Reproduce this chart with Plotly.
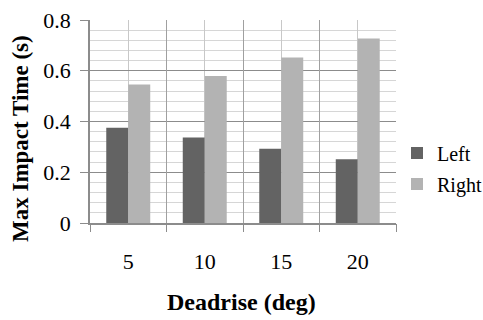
import plotly.graph_objects as go

categories = ["5", "10", "15", "20"]
left_values = [0.375, 0.337, 0.293, 0.251]
right_values = [0.546, 0.579, 0.652, 0.727]
y_ticks = [0, 0.2, 0.4, 0.6, 0.8]
y_tick_labels = ["0", "0.2", "0.4", "0.6", "0.8"]

FONT = "Liberation Serif"
W, H = 483, 320
# plot area in pixels: x 90..396, y 19.5..223.3
L, T = 90, 19.5
R = W - 396
B = H - 223.3
pw = W - L - R
ph = H - T - B


def px_x(x):
    return (x - L) / pw


def px_y(y):
    return (H - B - y) / ph


fig = go.Figure()
fig.add_trace(go.Bar(name="Left", x=categories, y=left_values,
                     marker=dict(color="#636363", line=dict(width=0)),
                     legendgroup="a"))
fig.add_trace(go.Bar(name="Right", x=categories, y=right_values,
                     marker=dict(color="#b3b3b3", line=dict(width=0)),
                     legendgroup="b"))
# helper trace to drive the boundary ticks / grid axis
fig.add_trace(go.Scatter(x=categories, y=[None] * len(categories), xaxis="x2",
                         showlegend=False, hoverinfo="skip", mode="markers"))

fig.update_layout(
    width=W, height=H,
    margin=dict(l=L, r=R, t=T, b=B, pad=0, autoexpand=False),
    paper_bgcolor="white", plot_bgcolor="white",
    barmode="group", bargap=0.425, bargroupgap=0,
    font=dict(family=FONT, color="black"),
    xaxis=dict(type="category", range=[-0.5, 3.5], showgrid=True,
               gridcolor="#c8c8c8", gridwidth=1, ticks="",
               showline=True, linecolor="#8c8c8c", linewidth=1.5,
               tickfont=dict(size=22, family=FONT, color="black"),
               ticklabelstandoff=18, ticklabeloverflow="allow"),
    xaxis2=dict(type="category", overlaying="x", range=[-0.5, 3.5],
                tickson="boundaries", ticks="outside", ticklen=8,
                tickcolor="#8c8c8c", showticklabels=False, showgrid=True,
                gridcolor="#a0a0a0", gridwidth=1, side="bottom"),
    yaxis=dict(range=[0, 0.8], tickvals=y_ticks, ticktext=y_tick_labels,
               ticks="outside", ticklen=8, tickcolor="#8c8c8c",
               showline=True, linecolor="#8c8c8c", linewidth=1.5,
               gridcolor="#8c8c8c", gridwidth=1, zeroline=False,
               tickfont=dict(size=22, family=FONT, color="black"),
               ticklabelstandoff=5, ticklabeloverflow="allow",
               minor=dict(dtick=0.04, showgrid=True, gridcolor="#d6d6d6",
                          gridwidth=1, ticks="")),
    legend=dict(x=px_x(397), xanchor="left", y=px_y(168.5),
                yanchor="middle", font=dict(size=20, family=FONT, color="black"),
                traceorder="grouped", tracegroupgap=2, bgcolor="rgba(0,0,0,0)"),
    showlegend=True,
    annotations=[
        dict(text="<b>Max Impact Time (s)</b>", textangle=-90, showarrow=False,
             xref="paper", yref="paper", x=px_x(20), y=px_y(139),
             xanchor="center", yanchor="middle",
             font=dict(size=23, family=FONT, color="black")),
        dict(text="<b>Deadrise (deg)</b>", showarrow=False,
             xref="paper", yref="paper", x=px_x(241.5), y=px_y(303),
             xanchor="center", yanchor="middle",
             font=dict(size=24, family=FONT, color="black")),
    ],
)

fig.write_html(
    "out.html",
    config={"displayModeBar": False},
    post_script="document.body.style.margin='0';"
                "document.body.style.overflow='hidden';",
)
